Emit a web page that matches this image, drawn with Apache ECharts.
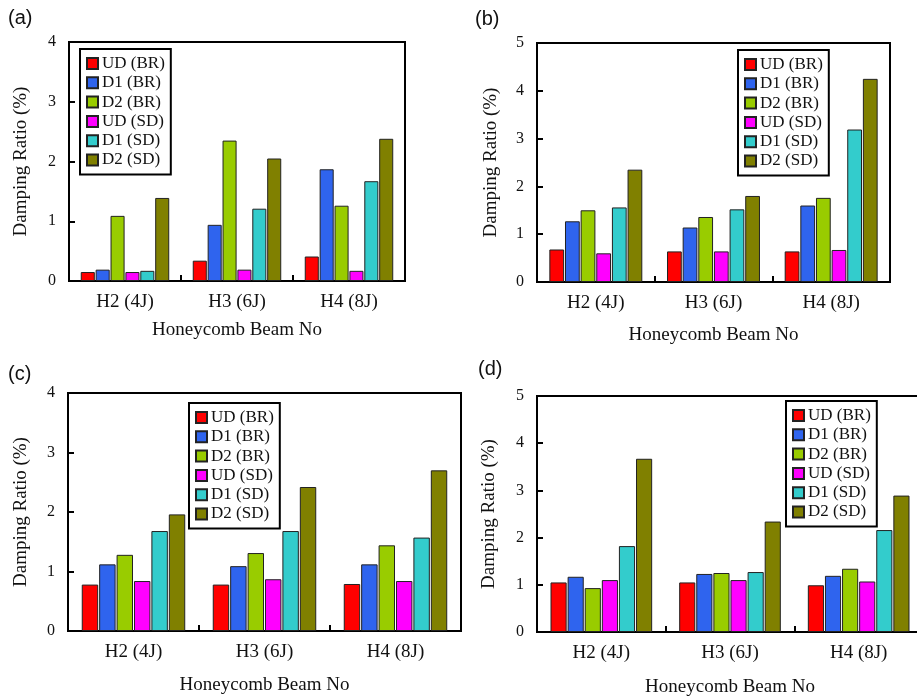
<!DOCTYPE html>
<html>
<head>
<meta charset="utf-8">
<script src="https://cdn.jsdelivr.net/npm/echarts@6/dist/echarts.min.js"></script>
<style>
  html, body { margin: 0; padding: 0; background: #ffffff; }
  #chart { width: 917px; height: 700px; }
</style>
</head>
<body>
<div id="chart"></div>
<script>
// Beam categories and series names shared by all four panels
const categories = ['H2 (4J)', 'H3 (6J)', 'H4 (8J)'];
const seriesNames = ['UD (BR)', 'D1 (BR)', 'D2 (BR)', 'UD (SD)', 'D1 (SD)', 'D2 (SD)'];
const panelLabels = ['(a)', '(b)', '(c)', '(d)'];
const yMaxTicks = [4, 5, 4, 5];

// Panel (a) damping ratios (%)
const aUdBr = [0.15, 0.34, 0.41];
const aD1Br = [0.19, 0.94, 1.87];
const aD2Br = [1.09, 2.35, 1.26];
const aUdSd = [0.15, 0.19, 0.17];
const aD1Sd = [0.17, 1.21, 1.67];
const aD2Sd = [1.39, 2.05, 2.38];

// Panel (b)
const bUdBr = [0.68, 0.64, 0.64];
const bD1Br = [1.27, 1.14, 1.60];
const bD2Br = [1.50, 1.36, 1.76];
const bUdSd = [0.60, 0.64, 0.67];
const bD1Sd = [1.56, 1.52, 3.19];
const bD2Sd = [2.35, 1.80, 4.25];

// Panel (c)
const cUdBr = [0.78, 0.78, 0.79];
const cD1Br = [1.12, 1.09, 1.12];
const cD2Br = [1.28, 1.31, 1.44];
const cUdSd = [0.84, 0.87, 0.84];
const cD1Sd = [1.68, 1.68, 1.57];
const cD2Sd = [1.96, 2.42, 2.70];

// Panel (d)
const dUdBr = [1.05, 1.05, 0.99];
const dD1Br = [1.17, 1.23, 1.19];
const dD2Br = [0.93, 1.25, 1.34];
const dUdSd = [1.10, 1.10, 1.07];
const dD1Sd = [1.82, 1.27, 2.16];
const dD2Sd = [3.67, 2.34, 2.89];

const panelData = [
  [aUdBr, aD1Br, aD2Br, aUdSd, aD1Sd, aD2Sd],
  [bUdBr, bD1Br, bD2Br, bUdSd, bD1Sd, bD2Sd],
  [cUdBr, cD1Br, cD2Br, cUdSd, cD1Sd, cD2Sd],
  [dUdBr, dD1Br, dD2Br, dUdSd, dD1Sd, dD2Sd]
];

const colors = ['#ff0000', '#2f64ee', '#99cc00', '#ff00ff', '#33cccc', '#808000'];

// Layout of each panel (panel d runs past the right edge of the page)
const grids = [
  { left: 69, top: 42, width: 336, height: 239 },
  { left: 537, top: 43, width: 353, height: 239 },
  { left: 68, top: 393, width: 393, height: 238 },
  { left: 537, top: 396, width: 386, height: 236 }
];
const legendPos = [
  { left: 80, top: 49 },
  { left: 738, top: 50 },
  { left: 189, top: 403 },
  { left: 786, top: 401 }
];
const titlePos = [
  { left: 8, top: 8 },
  { left: 475, top: 9 },
  { left: 8, top: 364 },
  { left: 478, top: 359 }
];
const xNameGap = [40, 44, 45, 46];
const yNameGap = [38, 36, 37, 38];

const serif = '"Liberation Serif", "Times New Roman", serif';

const option = {
  backgroundColor: '#ffffff',
  animation: false,
  color: colors,
  title: panelLabels.map((t, i) => ({
    text: t,
    left: titlePos[i].left,
    top: titlePos[i].top,
    padding: 0,
    textStyle: { fontFamily: '"Liberation Sans", Arial, sans-serif', fontSize: 20, fontWeight: 'normal', color: '#111' }
  })),
  grid: grids.map(g => ({
    left: g.left, top: g.top, width: g.width, height: g.height,
    show: true, borderColor: '#000', borderWidth: 2, backgroundColor: 'transparent',
    containLabel: false,
    outerBoundsMode: 'none'
  })),
  legend: legendPos.map(p => ({
    left: p.left, top: p.top,
    orient: 'vertical',
    data: seriesNames,
    icon: 'rect',
    itemWidth: 11, itemHeight: 11, itemGap: 2.3,
    padding: [6, 6, 6, 6],
    borderColor: '#000', borderWidth: 2, backgroundColor: '#fff',
    selectedMode: false,
    textStyle: { fontFamily: serif, fontSize: 17, color: '#111', lineHeight: 17, padding: [0, 0, 0, -1] }
  })),
  xAxis: grids.map((g, i) => ({
    type: 'category', gridIndex: i, data: categories,
    name: 'Honeycomb Beam No', nameLocation: 'middle', nameGap: xNameGap[i],
    nameTextStyle: { fontFamily: serif, fontSize: 19, color: '#111' },
    axisLine: { show: true, lineStyle: { color: '#000', width: 2 } },
    axisTick: { show: true, inside: true, length: 6, lineStyle: { color: '#000', width: 2 } },
    axisLabel: { interval: 0, margin: 12, fontFamily: serif, fontSize: 19, color: '#111' },
    splitLine: { show: false }
  })),
  yAxis: grids.map((g, i) => ({
    type: 'value', gridIndex: i, min: 0, max: yMaxTicks[i], interval: 1,
    name: 'Damping Ratio (%)', nameLocation: 'middle', nameGap: yNameGap[i], nameRotate: 90,
    nameTextStyle: { fontFamily: serif, fontSize: 19, color: '#111' },
    axisLine: { show: true, lineStyle: { color: '#000', width: 2 } },
    axisTick: { show: true, inside: true, length: 6, lineStyle: { color: '#000', width: 2 } },
    axisLabel: { margin: 13, fontFamily: serif, fontSize: 16, color: '#111' },
    splitLine: { show: false }
  })),
  series: []
};

panelData.forEach((panel, p) => {
  panel.forEach((values, s) => {
    option.series.push({
      type: 'bar',
      name: seriesNames[s],
      xAxisIndex: p,
      yAxisIndex: p,
      data: values,
      barGap: '6%',
      barCategoryGap: '21%',
      itemStyle: { color: colors[s], borderColor: '#222', borderWidth: 1 }
    });
  });
});

const chart = echarts.init(document.getElementById('chart'), null, { renderer: 'canvas' });
chart.setOption(option);
</script>
</body>
</html>
